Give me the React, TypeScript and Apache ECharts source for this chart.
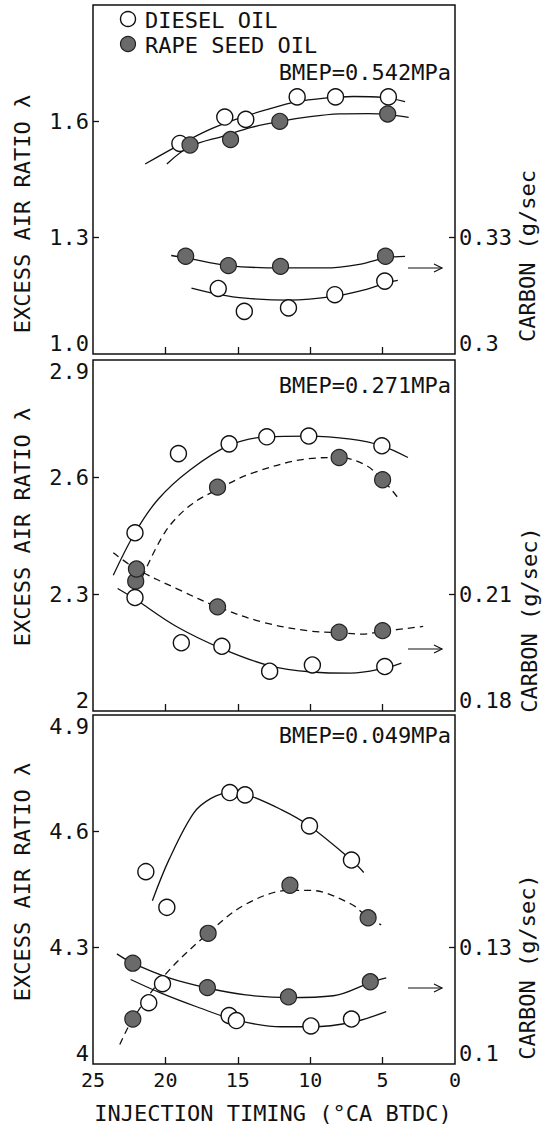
import React, { useEffect, useRef } from "react";
import * as echarts from "echarts";

const FONT = "'DejaVu Sans Mono', monospace";

// ---------- axis ticks / labels ----------
const xTickValues = [5, 10, 15, 20];
const xLabelValues = [25, 20, 15, 10, 5, 0];
const xTitle = "INJECTION TIMING (°CA BTDC)";
const leftTitle = "EXCESS AIR RATIO λ";
const rightTitles = ["CARBON (g/sec", "CARBON (g/sec)", "CARBON (g/sec)"];
const bmepLabels = ["BMEP=0.542MPa", "BMEP=0.271MPa", "BMEP=0.049MPa"];
const legendNames = ["DIESEL OIL", "RAPE SEED OIL"];

const lambdaRanges = [[1.0, 1.9], [2.0, 2.9], [4.0, 4.9]];
const lambdaLabelValues = [[1.0, 1.3, 1.6], [2.0, 2.3, 2.6, 2.9], [4.0, 4.3, 4.6, 4.9]];
const lambdaLabelTexts = [["1.0", "1.3", "1.6"], ["2", "2.3", "2.6", "2.9"], ["4", "4.3", "4.6", "4.9"]];
const lambdaTickValues = [[1.3, 1.6], [2.3, 2.6], [4.3, 4.6]];
const carbonRanges = [[0.3, 0.39], [0.18, 0.27], [0.1, 0.19]];
const carbonLabelValues = [[0.3, 0.33], [0.18, 0.21], [0.1, 0.13]];
const carbonLabelTexts = [["0.3", "0.33"], ["0.18", "0.21"], ["0.1", "0.13"]];
const carbonTickValues = [[0.33], [0.21], [0.13]];

// ---------- Panel 1 : BMEP 0.542 MPa ----------
const p1DieselLambdaPts = [[19.0, 1.543], [15.9, 1.611], [14.45, 1.605], [10.9, 1.663], [8.25, 1.663], [4.6, 1.663]];
const p1DieselLambdaCurve = [[21.4, 1.49], [19.0, 1.54], [17.0, 1.578], [15.0, 1.607], [13.0, 1.63], [11.0, 1.65], [9.0, 1.66], [7.0, 1.664], [5.0, 1.662], [3.45, 1.651]];
const p1RapeLambdaPts = [[18.3, 1.539], [15.5, 1.553], [12.1, 1.6], [4.65, 1.619]];
const p1RapeLambdaCurve = [[19.9, 1.49], [18.3, 1.535], [16.0, 1.562], [14.0, 1.585], [12.1, 1.6], [10.0, 1.612], [8.0, 1.619], [6.0, 1.62], [4.65, 1.618], [3.2, 1.61]];
const p1RapeCarbonPts = [[18.6, 0.3252], [15.65, 0.3228], [12.05, 0.3226], [4.8, 0.3252]];
const p1RapeCarbonCurve = [[19.6, 0.3254], [18.6, 0.3248], [15.65, 0.3228], [12.05, 0.3222], [9.0, 0.3222], [6.5, 0.3232], [4.8, 0.3248], [3.45, 0.3252]];
const p1DieselCarbonPts = [[16.35, 0.3169], [14.55, 0.311], [11.5, 0.3119], [8.3, 0.3153], [4.85, 0.3188]];
const p1DieselCarbonCurve = [[18.2, 0.317], [16.35, 0.3154], [14.5, 0.3144], [11.5, 0.3139], [8.3, 0.3149], [6.0, 0.3168], [4.85, 0.3182], [3.95, 0.319]];

// ---------- Panel 2 : BMEP 0.271 MPa ----------
const p2DieselLambdaPts = [[22.1, 2.457], [19.1, 2.66], [15.6, 2.685], [13.0, 2.703], [10.1, 2.705], [5.05, 2.68]];
const p2DieselLambdaCurve = [[23.6, 2.348], [22.1, 2.457], [20.5, 2.543], [18.3, 2.618], [15.6, 2.681], [13.0, 2.703], [10.1, 2.705], [7.2, 2.697], [5.05, 2.68], [3.25, 2.65]];
const p2RapeLambdaPts = [[22.05, 2.333], [16.4, 2.574], [8.0, 2.65], [5.0, 2.593]];
const p2RapeLambdaCurve = [[21.6, 2.343], [20.0, 2.46], [18.3, 2.527], [16.4, 2.568], [14.0, 2.61], [10.1, 2.647], [8.0, 2.65], [6.2, 2.631], [5.0, 2.593], [3.9, 2.545]];
const p2DieselCarbonPts = [[22.1, 0.2091], [18.9, 0.1975], [16.1, 0.1966], [12.8, 0.1902], [9.85, 0.1918], [4.85, 0.1914]];
const p2DieselCarbonCurve = [[23.3, 0.2114], [22.1, 0.2087], [19.3, 0.2018], [16.1, 0.196], [12.8, 0.1916], [9.85, 0.19], [7.2, 0.1897], [4.85, 0.191], [3.7, 0.1923]];
const p2RapeCarbonPts = [[22.0, 0.2164], [16.4, 0.2067], [8.0, 0.2002], [5.0, 0.2006]];
const p2RapeCarbonCurve = [[23.6, 0.2206], [22.0, 0.2164], [19.0, 0.211], [16.4, 0.2067], [13.2, 0.2027], [10.0, 0.2005], [8.0, 0.2001], [6.4, 0.1997], [5.0, 0.2004], [2.2, 0.2017]];

// ---------- Panel 3 : BMEP 0.049 MPa ----------
const p3DieselLambdaPts = [[21.35, 4.496], [19.9, 4.404], [15.55, 4.7], [14.5, 4.694], [10.05, 4.614], [7.15, 4.526]];
const p3DieselLambdaCurve = [[20.9, 4.421], [19.75, 4.527], [18.05, 4.647], [16.85, 4.685], [15.55, 4.7], [14.5, 4.696], [12.0, 4.656], [10.05, 4.614], [7.15, 4.526], [6.3, 4.494]];
const p3RapeLambdaPts = [[22.25, 4.116], [17.05, 4.337], [11.4, 4.461], [6.0, 4.377]];
const p3RapeLambdaCurve = [[23.15, 4.05], [22.25, 4.116], [20.0, 4.231], [17.05, 4.337], [14.45, 4.412], [11.4, 4.448], [10.05, 4.448], [7.15, 4.412], [6.0, 4.377], [5.1, 4.359]];
const p3RapeCarbonPts = [[22.25, 0.126], [17.1, 0.1197], [11.5, 0.1173], [5.85, 0.1212]];
const p3RapeCarbonCurve = [[23.35, 0.1284], [22.25, 0.126], [19.75, 0.1222], [17.1, 0.1196], [14.45, 0.1178], [11.5, 0.1171], [8.4, 0.1176], [5.85, 0.121], [4.75, 0.1222]];
const p3DieselCarbonPts = [[21.15, 0.1158], [20.2, 0.1207], [15.6, 0.1125], [15.1, 0.1112], [9.95, 0.1098], [7.15, 0.1116]];
const p3DieselCarbonCurve = [[22.4, 0.1218], [20.25, 0.1182], [17.8, 0.1147], [15.1, 0.1113], [12.0, 0.1096], [9.95, 0.1096], [7.15, 0.1107], [4.75, 0.1135]];

// ---------- layout ----------
const GRID_LEFT = 93;
const GRID_WIDTH = 362;
const gridTops = [5, 360, 715];
const gridHeights = [349, 351, 349];
const INK = "#111";

function curve(data: number[][], panel: number, right: boolean, dashed: boolean) {
  return {
    type: "line",
    xAxisIndex: panel,
    yAxisIndex: panel * 2 + (right ? 1 : 0),
    data,
    smooth: 0.35,
    symbol: "none",
    showSymbol: false,
    silent: true,
    z: 2,
    lineStyle: { color: INK, width: 1.3, type: dashed ? [7, 5] : "solid" },
  };
}

function points(data: number[][], panel: number, right: boolean, filled: boolean) {
  return {
    type: "scatter",
    xAxisIndex: panel,
    yAxisIndex: panel * 2 + (right ? 1 : 0),
    data,
    symbol: "circle",
    symbolSize: 16,
    silent: true,
    z: 3,
    itemStyle: filled
      ? { color: "#6a6a6a", borderColor: "#222", borderWidth: 1.2, opacity: 1 }
      : { color: "#ffffff", borderColor: INK, borderWidth: 1.4, opacity: 1 },
  };
}

function labelFmt(values: number[], texts: string[]) {
  return (v: number) => {
    const i = values.findIndex((x) => Math.abs(x - v) < 1e-6);
    return i >= 0 ? texts[i] : "";
  };
}

function arrow(y: number) {
  return [
    { type: "line", shape: { x1: 408, y1: y, x2: 442, y2: y }, style: { stroke: INK, lineWidth: 1.2 } },
    { type: "polyline", shape: { points: [[434, y - 4], [442, y], [434, y + 4]] }, style: { stroke: INK, lineWidth: 1.2, fill: null } },
  ];
}

function textEl(text: string, x: number, y: number, align: string, rotate = false, size = 22) {
  return {
    type: "text",
    x,
    y,
    rotation: rotate ? Math.PI / 2 : 0,
    style: { text, fontSize: size, fontFamily: FONT, fill: INK, align, verticalAlign: "middle" },
  };
}

export default function App() {
  const ref = useRef<HTMLDivElement>(null);

  useEffect(() => {
    if (!ref.current) return;
    const chart = echarts.init(ref.current, undefined, { renderer: "svg" });

    const grids = gridTops.map((top, i) => ({
      left: GRID_LEFT,
      width: GRID_WIDTH,
      top,
      height: gridHeights[i],
      show: true,
      borderColor: INK,
      borderWidth: 1.5,
      backgroundColor: "transparent",
    }));

    const xAxes = [0, 1, 2].map((i) => ({
      type: "value",
      gridIndex: i,
      min: 0,
      max: 25,
      inverse: true,
      axisLine: { show: false, onZero: false },
      splitLine: { show: false },
      axisTick: { show: true, inside: true, length: 7, customValues: xTickValues, lineStyle: { color: INK, width: 1.3 } },
      axisLabel: {
        show: i === 2,
        customValues: xLabelValues,
        fontSize: 20,
        fontFamily: FONT,
        color: INK,
        margin: 6,
      },
    }));

    const yAxes: any[] = [];
    [0, 1, 2].forEach((i) => {
      yAxes.push({
        type: "value",
        gridIndex: i,
        position: "left",
        min: lambdaRanges[i][0],
        max: lambdaRanges[i][1],
        axisLine: { show: false, onZero: false },
        splitLine: { show: false },
        axisTick: { show: true, inside: true, length: 6, customValues: lambdaTickValues[i], lineStyle: { color: INK, width: 1.3 } },
        axisLabel: {
          customValues: lambdaLabelValues[i],
          formatter: labelFmt(lambdaLabelValues[i], lambdaLabelTexts[i]),
          fontSize: 22,
          fontFamily: FONT,
          color: INK,
          margin: 4,
          verticalAlignMinLabel: "bottom",
          verticalAlignMaxLabel: i === 0 ? "middle" : "top",
        },
      });
      yAxes.push({
        type: "value",
        gridIndex: i,
        position: "right",
        min: carbonRanges[i][0],
        max: carbonRanges[i][1],
        axisLine: { show: false, onZero: false },
        splitLine: { show: false },
        axisTick: { show: true, inside: true, length: 6, customValues: carbonTickValues[i], lineStyle: { color: INK, width: 1.3 } },
        axisLabel: {
          customValues: carbonLabelValues[i],
          formatter: labelFmt(carbonLabelValues[i], carbonLabelTexts[i]),
          fontSize: 22,
          fontFamily: FONT,
          color: INK,
          margin: 4,
          verticalAlignMinLabel: "bottom",
          verticalAlignMaxLabel: "middle",
        },
      });
    });

    const series = [
      // panel 1
      curve(p1DieselLambdaCurve, 0, false, false),
      curve(p1RapeLambdaCurve, 0, false, false),
      curve(p1RapeCarbonCurve, 0, true, false),
      curve(p1DieselCarbonCurve, 0, true, false),
      points(p1DieselLambdaPts, 0, false, false),
      points(p1RapeLambdaPts, 0, false, true),
      points(p1RapeCarbonPts, 0, true, true),
      points(p1DieselCarbonPts, 0, true, false),
      // panel 2
      curve(p2DieselLambdaCurve, 1, false, false),
      curve(p2RapeLambdaCurve, 1, false, true),
      curve(p2DieselCarbonCurve, 1, true, false),
      curve(p2RapeCarbonCurve, 1, true, true),
      points(p2DieselLambdaPts, 1, false, false),
      points(p2RapeLambdaPts, 1, false, true),
      points(p2DieselCarbonPts, 1, true, false),
      points(p2RapeCarbonPts, 1, true, true),
      // panel 3
      curve(p3DieselLambdaCurve, 2, false, false),
      curve(p3RapeLambdaCurve, 2, false, true),
      curve(p3RapeCarbonCurve, 2, true, false),
      curve(p3DieselCarbonCurve, 2, true, false),
      points(p3DieselLambdaPts, 2, false, false),
      points(p3RapeLambdaPts, 2, false, true),
      points(p3RapeCarbonPts, 2, true, true),
      points(p3DieselCarbonPts, 2, true, false),
    ];

    const graphic: any[] = [
      // legend
      { type: "circle", shape: { cx: 128, cy: 19, r: 7.5 }, style: { fill: "#fff", stroke: INK, lineWidth: 1.4 } },
      { type: "circle", shape: { cx: 128, cy: 44, r: 7.5 }, style: { fill: "#6a6a6a", stroke: "#222", lineWidth: 1.2 } },
      textEl(legendNames[0], 145, 20, "left"),
      textEl(legendNames[1], 145, 45, "left"),
      // BMEP labels
      textEl(bmepLabels[0], 451, 72, "right"),
      textEl(bmepLabels[1], 451, 385, "right"),
      textEl(bmepLabels[2], 451, 735, "right"),
      // left titles
      textEl(leftTitle, 22, 214, "center", true),
      textEl(leftTitle, 22, 527, "center", true),
      textEl(leftTitle, 22, 882, "center", true),
      // right titles
      textEl(rightTitles[0], 527, 256, "center", true),
      textEl(rightTitles[1], 529, 620, "center", true),
      textEl(rightTitles[2], 527, 967, "center", true),
      // x title
      textEl(xTitle, 273, 1113, "center"),
      ...arrow(268),
      ...arrow(649),
      ...arrow(988),
    ];

    chart.setOption({
      animation: false,
      backgroundColor: "#ffffff",
      textStyle: { fontFamily: FONT },
      grid: grids,
      xAxis: xAxes,
      yAxis: yAxes,
      series,
      graphic,
    });

    return () => chart.dispose();
  }, []);

  return (
    <div
      ref={ref}
      style={{ position: "absolute", left: 0, top: 0, width: 556, height: 1129, background: "#fff" }}
    />
  );
}
